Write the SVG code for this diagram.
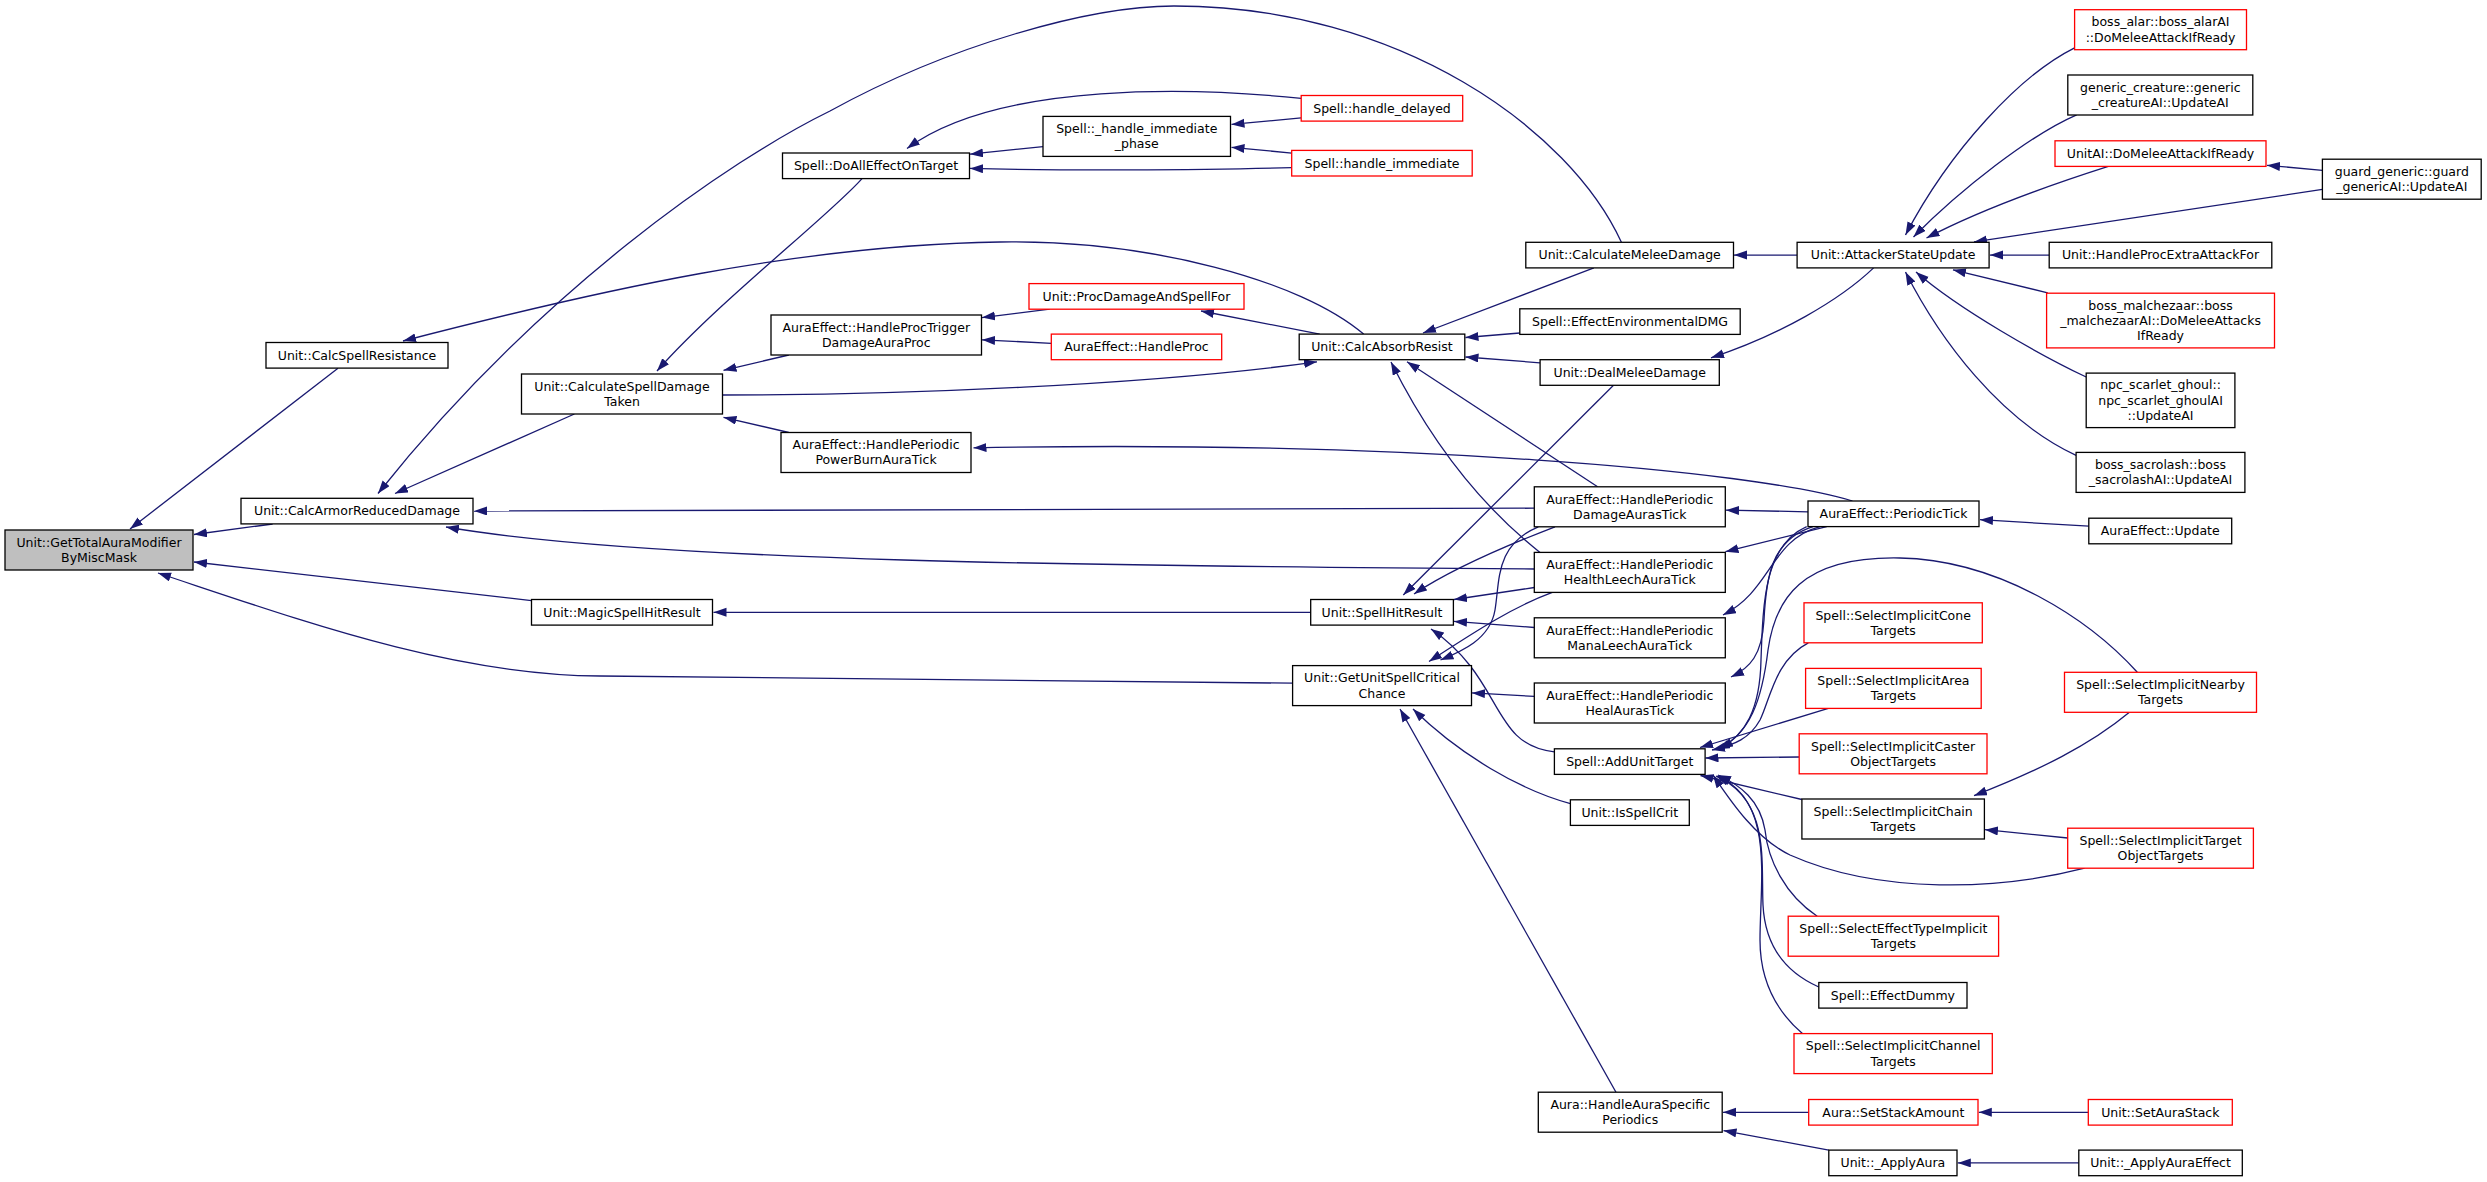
<svg xmlns="http://www.w3.org/2000/svg" width="2487" height="1182" viewBox="0 0 2487 1182">
<style>
.n rect{fill:#fff;stroke:#000;stroke-width:1.3}
.n.r rect{stroke:#ff0000}
.n.m rect{fill:#bfbfbf}
.n text{font-family:"DejaVu Sans",sans-serif;font-size:12.5px;text-anchor:middle;fill:#000}
.e path{fill:none;stroke:#191970;stroke-width:1.3;marker-end:url(#a)}
</style>
<defs>
<marker id="a" markerUnits="userSpaceOnUse" markerWidth="14" markerHeight="10" refX="13" refY="4.5" orient="auto"><path d="M0,0 L13,4.5 L0,9 z" fill="#191970"/></marker>
</defs>
<rect width="2487" height="1182" fill="#fff"/>
<g id="connectors" class="e">
<path d="M338,368.2 L130,529"/>
<path d="M272.6,524 L194,534.5"/>
<path d="M531.5,600.6 L194,562"/>
<path d="M1292.6,683.2 C1000,679 750,677 600,676 C450,675 300,620 158,573"/>
<path d="M1363.6,334.1 C1300,280 1150,240 1000,242 C800,245 600,290 403,341"/>
<path d="M1621.4,242.3 C1570,130 1400,6 1174,6 C1090,6 950,45 830,111 C730,160 540,290 378,493.5"/>
<path d="M574.4,414 L395,493.5"/>
<path d="M1534.3,508.2 L474,511"/>
<path d="M1534.3,569 C1100,566 650,562 446,527"/>
<path d="M862,178.6 C830,215 720,300 657,371"/>
<path d="M788.8,355 L723.5,370.3"/>
<path d="M788.8,432.5 L723.5,417.3"/>
<path d="M722.6,395 C900,395 1150,385 1317,361.8"/>
<path d="M1043,146.6 L970,154.2"/>
<path d="M1291.7,167.6 C1200,170.5 1050,170.5 970,168.4"/>
<path d="M1301.2,98.4 C1200,88 1000,80 907,148.5"/>
<path d="M1301.2,117.9 L1231.5,124.4"/>
<path d="M1291.7,153.1 L1231.5,147.3"/>
<path d="M1049.7,309.2 L982,317.6"/>
<path d="M1051.3,343.3 L982,339.8"/>
<path d="M1319.7,334.1 L1201,311"/>
<path d="M1852.5,501 C1750,470 1400,440 973.5,447.8"/>
<path d="M1593.9,267.9 L1423,333"/>
<path d="M1519.8,333 L1465.5,337.5"/>
<path d="M1540,362.8 L1465.5,357"/>
<path d="M1597.6,486.8 L1407,361.8"/>
<path d="M1540,552.4 C1480,505 1430,440 1391,362"/>
<path d="M1797.1,255.1 L1734,255.1"/>
<path d="M1873.6,267.9 C1840,300 1780,335 1711,357.8"/>
<path d="M1613.5,385.3 L1403.3,595"/>
<path d="M1555,526.8 C1500,548 1450,570 1414,594"/>
<path d="M1534.3,587.5 L1454,599.5"/>
<path d="M1534.3,627.5 L1454,621.4"/>
<path d="M1554.4,751.8 C1490,745 1505,680 1431,629"/>
<path d="M1538.3,526.8 C1495,545 1500,580 1495,610 C1490,640 1460,652 1440.5,660"/>
<path d="M1552.3,592.4 C1510,608 1470,635 1429,661.5"/>
<path d="M1534.3,696.4 L1472,692.9"/>
<path d="M1570.4,803.6 C1520,790 1460,755 1413,709"/>
<path d="M1616,1092.2 L1400,709"/>
<path d="M1808,511.8 L1726,510.2"/>
<path d="M1826.7,526.6 L1725.5,551.7"/>
<path d="M1820,526.6 C1770,540 1772,590 1723,615"/>
<path d="M1813,526.6 C1770,540 1766,580 1764,620 C1762,655 1750,668 1731,677"/>
<path d="M1806.7,526.6 C1765,545 1763,600 1761,660 C1760,710 1745,735 1720,748.5"/>
<path d="M2137.3,672.3 C2090,620 2000,560 1900,558 C1800,556 1775,600 1768,650 C1762,700 1750,735 1717,749.3"/>
<path d="M1808.3,642.8 C1775,660 1770,700 1760,720 C1750,738 1735,745 1712,750"/>
<path d="M1828.3,708.4 L1700,747.5"/>
<path d="M1799.2,757 L1705.5,758"/>
<path d="M1801.9,799.5 L1700.5,775.5"/>
<path d="M2084.6,868.2 C2000,890 1880,895 1790,855 C1755,838 1730,800 1713,775"/>
<path d="M1817.2,916.2 C1785,895 1768,860 1765,830 C1760,800 1740,785 1718,775"/>
<path d="M1818.8,987 C1785,972 1765,945 1763,905 C1761,860 1770,800 1716,776"/>
<path d="M1802.4,1033.6 C1775,1010 1760,980 1760,940 C1760,880 1775,800 1717,776"/>
<path d="M2129.4,712.3 C2090,745 2040,770 1974,795.7"/>
<path d="M2067.7,838 L1985,829.7"/>
<path d="M2074.6,47.8 C2020,75 1950,150 1905.5,235"/>
<path d="M2076.7,114.8 C2030,135 1960,190 1913.5,237"/>
<path d="M2108.3,166.4 C2050,185 1980,210 1926.5,238"/>
<path d="M2322.4,189.4 L1974,241.9"/>
<path d="M2322.4,170.3 L2267,165.3"/>
<path d="M2049.2,255.1 L1990,255.1"/>
<path d="M2047.7,292.8 L1953,269.8"/>
<path d="M2086.2,377 C2040,355 1960,310 1916,272"/>
<path d="M2076.1,455.4 C2000,420 1940,340 1905.5,272"/>
<path d="M2088.8,526.2 L1980,519.7"/>
<path d="M1808.7,1112.3 L1723,1112.3"/>
<path d="M1828.8,1150.1 L1723.5,1130.6"/>
<path d="M2088.3,1112.3 L1978.8,1112.3"/>
<path d="M2078.8,1162.9 L1957.8,1162.9"/>
<path d="M1310.7,612.3 L713.5,612.3"/>
</g>
<g id="main" class="n m"><rect x="5" y="530" width="188" height="40"/><text x="99" y="546.7">Unit::GetTotalAuraModifier</text><text x="99" y="561.9">ByMiscMask</text></g>
<g id="calcSpellResistance" class="n"><rect x="266" y="342.5" width="182" height="25.6"/><text x="357" y="359.6">Unit::CalcSpellResistance</text></g>
<g id="calcArmorReducedDamage" class="n"><rect x="241" y="498.3" width="232" height="25.6"/><text x="357" y="515.4">Unit::CalcArmorReducedDamage</text></g>
<g id="magicSpellHitResult" class="n"><rect x="531.5" y="599.5" width="181" height="25.6"/><text x="622" y="616.6">Unit::MagicSpellHitResult</text></g>
<g id="calculateSpellDamageTaken" class="n"><rect x="521.5" y="374" width="201" height="40"/><text x="622" y="390.7">Unit::CalculateSpellDamage</text><text x="622" y="405.9">Taken</text></g>
<g id="doAllEffectOnTarget" class="n"><rect x="782.5" y="153" width="187" height="25.6"/><text x="876" y="170.1">Spell::DoAllEffectOnTarget</text></g>
<g id="handleProcTrigger" class="n"><rect x="771" y="315" width="210.5" height="40"/><text x="876.25" y="331.7">AuraEffect::HandleProcTrigger</text><text x="876.25" y="346.9">DamageAuraProc</text></g>
<g id="powerBurn" class="n"><rect x="781" y="432.5" width="190" height="40"/><text x="876" y="449.2">AuraEffect::HandlePeriodic</text><text x="876" y="464.4">PowerBurnAuraTick</text></g>
<g id="handleImmediatePhase" class="n"><rect x="1043" y="116.4" width="187.5" height="40"/><text x="1136.75" y="133.1">Spell::_handle_immediate</text><text x="1136.75" y="148.3">_phase</text></g>
<g id="handleDelayed" class="n r"><rect x="1301.2" y="95.5" width="161.5" height="25.6"/><text x="1382" y="112.6">Spell::handle_delayed</text></g>
<g id="handleImmediate" class="n r"><rect x="1291.7" y="150.4" width="180.5" height="25.6"/><text x="1382" y="167.5">Spell::handle_immediate</text></g>
<g id="procDamageAndSpellFor" class="n r"><rect x="1029" y="283.6" width="215" height="25.6"/><text x="1136.5" y="300.7">Unit::ProcDamageAndSpellFor</text></g>
<g id="handleProc" class="n r"><rect x="1051.3" y="334.1" width="170.4" height="25.6"/><text x="1136.5" y="351.2">AuraEffect::HandleProc</text></g>
<g id="calcAbsorbResist" class="n"><rect x="1299.2" y="334.1" width="165.6" height="25.6"/><text x="1382" y="351.2">Unit::CalcAbsorbResist</text></g>
<g id="spellHitResult" class="n"><rect x="1310.7" y="599.5" width="142.7" height="25.6"/><text x="1382" y="616.6">Unit::SpellHitResult</text></g>
<g id="getUnitSpellCriticalChance" class="n"><rect x="1292.6" y="665.6" width="178.9" height="40"/><text x="1382" y="682.3">Unit::GetUnitSpellCritical</text><text x="1382" y="697.5">Chance</text></g>
<g id="calculateMeleeDamage" class="n"><rect x="1525.8" y="242.3" width="207.7" height="25.6"/><text x="1629.65" y="259.4">Unit::CalculateMeleeDamage</text></g>
<g id="effectEnvironmentalDMG" class="n"><rect x="1519.8" y="308.8" width="220.4" height="25.6"/><text x="1630" y="325.9">Spell::EffectEnvironmentalDMG</text></g>
<g id="dealMeleeDamage" class="n"><rect x="1540.1" y="359.7" width="179.2" height="25.6"/><text x="1629.7" y="376.8">Unit::DealMeleeDamage</text></g>
<g id="damageAurasTick" class="n"><rect x="1534.3" y="486.8" width="191" height="40"/><text x="1629.8" y="503.5">AuraEffect::HandlePeriodic</text><text x="1629.8" y="518.7">DamageAurasTick</text></g>
<g id="healthLeechAuraTick" class="n"><rect x="1534.3" y="552.4" width="191" height="40"/><text x="1629.8" y="569.1">AuraEffect::HandlePeriodic</text><text x="1629.8" y="584.3">HealthLeechAuraTick</text></g>
<g id="manaLeechAuraTick" class="n"><rect x="1534.3" y="617.8" width="191" height="40"/><text x="1629.8" y="634.5">AuraEffect::HandlePeriodic</text><text x="1629.8" y="649.7">ManaLeechAuraTick</text></g>
<g id="healAurasTick" class="n"><rect x="1534.3" y="683" width="191" height="40"/><text x="1629.8" y="699.7">AuraEffect::HandlePeriodic</text><text x="1629.8" y="714.9">HealAurasTick</text></g>
<g id="addUnitTarget" class="n"><rect x="1554.4" y="748.8" width="150.7" height="25.6"/><text x="1629.75" y="765.9">Spell::AddUnitTarget</text></g>
<g id="isSpellCrit" class="n"><rect x="1570.4" y="799.8" width="118.9" height="25.6"/><text x="1629.85" y="816.9">Unit::IsSpellCrit</text></g>
<g id="handleAuraSpecificPeriodics" class="n"><rect x="1538.3" y="1092.2" width="183.9" height="40"/><text x="1630.25" y="1108.9">Aura::HandleAuraSpecific</text><text x="1630.25" y="1124.1">Periodics</text></g>
<g id="attackerStateUpdate" class="n"><rect x="1797.1" y="242.3" width="192" height="25.6"/><text x="1893.1" y="259.4">Unit::AttackerStateUpdate</text></g>
<g id="periodicTick" class="n"><rect x="1808" y="501" width="171" height="25.6"/><text x="1893.5" y="518.1">AuraEffect::PeriodicTick</text></g>
<g id="selectImplicitCone" class="n r"><rect x="1804" y="602.8" width="178.3" height="40"/><text x="1893.15" y="619.5">Spell::SelectImplicitCone</text><text x="1893.15" y="634.7">Targets</text></g>
<g id="selectImplicitArea" class="n r"><rect x="1805.6" y="668.4" width="175.6" height="40"/><text x="1893.4" y="685.1">Spell::SelectImplicitArea</text><text x="1893.4" y="700.3">Targets</text></g>
<g id="selectImplicitCaster" class="n r"><rect x="1799.2" y="733.8" width="187.8" height="40"/><text x="1893.1" y="750.5">Spell::SelectImplicitCaster</text><text x="1893.1" y="765.7">ObjectTargets</text></g>
<g id="selectImplicitChain" class="n"><rect x="1801.9" y="799" width="182.5" height="40"/><text x="1893.15" y="815.7">Spell::SelectImplicitChain</text><text x="1893.15" y="830.9">Targets</text></g>
<g id="selectEffectTypeImplicit" class="n r"><rect x="1788.2" y="916.2" width="210.4" height="40"/><text x="1893.4" y="932.9">Spell::SelectEffectTypeImplicit</text><text x="1893.4" y="948.1">Targets</text></g>
<g id="effectDummy" class="n"><rect x="1818.8" y="982.5" width="148.2" height="25.6"/><text x="1892.9" y="999.6">Spell::EffectDummy</text></g>
<g id="selectImplicitChannel" class="n r"><rect x="1794" y="1033.6" width="198.3" height="40"/><text x="1893.15" y="1050.3">Spell::SelectImplicitChannel</text><text x="1893.15" y="1065.5">Targets</text></g>
<g id="setStackAmount" class="n r"><rect x="1808.7" y="1099.5" width="169.3" height="25.6"/><text x="1893.35" y="1116.6">Aura::SetStackAmount</text></g>
<g id="applyAura" class="n"><rect x="1828.8" y="1150.1" width="128.2" height="25.6"/><text x="1892.9" y="1167.2">Unit::_ApplyAura</text></g>
<g id="bossAlar" class="n r"><rect x="2074.6" y="9.7" width="171.9" height="40"/><text x="2160.55" y="26.4">boss_alar::boss_alarAI</text><text x="2160.55" y="41.6">::DoMeleeAttackIfReady</text></g>
<g id="genericCreature" class="n"><rect x="2067.8" y="75" width="185" height="40"/><text x="2160.3" y="91.7">generic_creature::generic</text><text x="2160.3" y="106.9">_creatureAI::UpdateAI</text></g>
<g id="unitAIDoMelee" class="n r"><rect x="2055" y="140.8" width="211" height="25.6"/><text x="2160.5" y="157.9">UnitAI::DoMeleeAttackIfReady</text></g>
<g id="guardGeneric" class="n"><rect x="2322.4" y="159.2" width="158.8" height="40"/><text x="2401.8" y="175.9">guard_generic::guard</text><text x="2401.8" y="191.1">_genericAI::UpdateAI</text></g>
<g id="handleProcExtraAttackFor" class="n"><rect x="2049.2" y="242.3" width="222.6" height="25.6"/><text x="2160.5" y="259.4">Unit::HandleProcExtraAttackFor</text></g>
<g id="bossMalchezaar" class="n r"><rect x="2046.6" y="293.2" width="227.9" height="54.7"/><text x="2160.55" y="309.65">boss_malchezaar::boss</text><text x="2160.55" y="324.85">_malchezaarAI::DoMeleeAttacks</text><text x="2160.55" y="340.05">IfReady</text></g>
<g id="npcScarletGhoul" class="n"><rect x="2086.2" y="373.1" width="148.7" height="54.5"/><text x="2160.55" y="389.45">npc_scarlet_ghoul::</text><text x="2160.55" y="404.65">npc_scarlet_ghoulAI</text><text x="2160.55" y="419.85">::UpdateAI</text></g>
<g id="bossSacrolash" class="n"><rect x="2076.1" y="452.4" width="168.8" height="40"/><text x="2160.5" y="469.1">boss_sacrolash::boss</text><text x="2160.5" y="484.3">_sacrolashAI::UpdateAI</text></g>
<g id="auraEffectUpdate" class="n"><rect x="2088.8" y="518.2" width="142.9" height="25.6"/><text x="2160.25" y="535.3">AuraEffect::Update</text></g>
<g id="selectImplicitNearby" class="n r"><rect x="2064.5" y="672.3" width="192" height="40"/><text x="2160.5" y="689">Spell::SelectImplicitNearby</text><text x="2160.5" y="704.2">Targets</text></g>
<g id="selectImplicitTargetObject" class="n r"><rect x="2067.7" y="828.2" width="185.7" height="40"/><text x="2160.55" y="844.9">Spell::SelectImplicitTarget</text><text x="2160.55" y="860.1">ObjectTargets</text></g>
<g id="setAuraStack" class="n r"><rect x="2088.3" y="1099.5" width="144" height="25.6"/><text x="2160.3" y="1116.6">Unit::SetAuraStack</text></g>
<g id="applyAuraEffect" class="n"><rect x="2078.8" y="1150.1" width="163.5" height="25.6"/><text x="2160.55" y="1167.2">Unit::_ApplyAuraEffect</text></g>
</svg>
